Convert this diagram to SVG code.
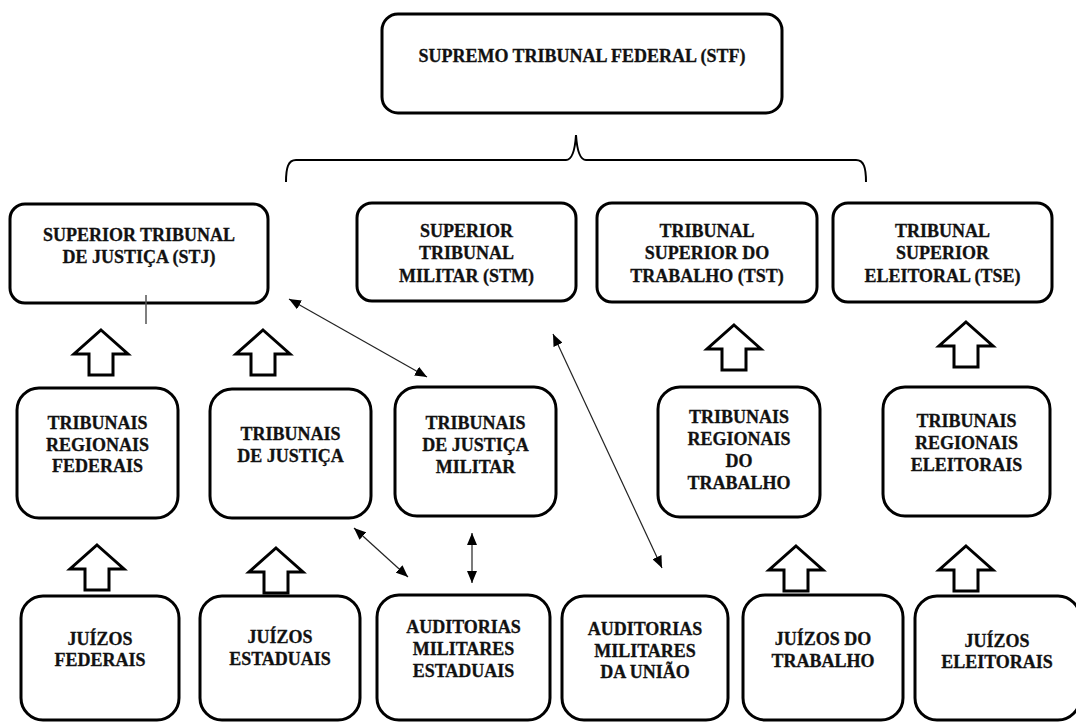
<svg xmlns="http://www.w3.org/2000/svg" xmlns:xlink="http://www.w3.org/1999/xlink" width="1076" height="722" viewBox="0 0 1076 722">
<style>
.box{fill:#fff;stroke:#000;stroke-width:3}
.t{font-family:"Liberation Serif","Times New Roman",serif;font-weight:bold;font-size:18px;fill:#111;stroke:#111;stroke-width:0.3;text-anchor:middle}
.con{stroke:#222;stroke-width:1.2;fill:none}
.blk{fill:#fff;stroke:#000;stroke-width:3}
</style>
<defs>
<marker id="ah" viewBox="0 0 12 10" refX="12" refY="5" markerWidth="12" markerHeight="10" markerUnits="userSpaceOnUse" orient="auto-start-reverse">
<path d="M0,0 L12,5 L0,10 Z" fill="#000"/>
</marker>
<path id="bk" d="M0,0 L27,24 L12,24 L12,45 L-12,45 L-12,24 L-27,24 Z"/>
</defs>
<rect width="1076" height="722" fill="#fff"/>

<g id="stf"><rect class="box" x="382" y="14" width="400" height="99" rx="16"/><text class="t" x="582" y="62">SUPREMO TRIBUNAL FEDERAL (STF)</text></g>

<g id="stj"><rect class="box" x="10" y="204" width="258" height="99" rx="15"/><text class="t" x="139" y="241">SUPERIOR TRIBUNAL</text><text class="t" x="139" y="263">DE JUSTIÇA (STJ)</text></g>
<g id="stm"><rect class="box" x="357" y="203" width="219" height="98" rx="15"/><text class="t" x="466.5" y="237">SUPERIOR</text><text class="t" x="466.5" y="259">TRIBUNAL</text><text class="t" x="466.5" y="282">MILITAR (STM)</text></g>
<g id="tst"><rect class="box" x="597" y="203" width="220" height="99" rx="15"/><text class="t" x="707" y="237">TRIBUNAL</text><text class="t" x="707" y="259">SUPERIOR DO</text><text class="t" x="707" y="282">TRABALHO (TST)</text></g>
<g id="tse"><rect class="box" x="833" y="203" width="219" height="99" rx="15"/><text class="t" x="942.5" y="237">TRIBUNAL</text><text class="t" x="942.5" y="259">SUPERIOR</text><text class="t" x="942.5" y="282">ELEITORAL (TSE)</text></g>

<g id="trf"><rect class="box" x="17" y="388" width="161" height="130" rx="22"/><text class="t" x="97.5" y="429">TRIBUNAIS</text><text class="t" x="97.5" y="451">REGIONAIS</text><text class="t" x="97.5" y="472">FEDERAIS</text></g>
<g id="tj"><rect class="box" x="210" y="389" width="161" height="129" rx="22"/><text class="t" x="290.5" y="440">TRIBUNAIS</text><text class="t" x="290.5" y="462">DE JUSTIÇA</text></g>
<g id="tjm"><rect class="box" x="395" y="387" width="161" height="129" rx="22"/><text class="t" x="475.5" y="429">TRIBUNAIS</text><text class="t" x="475.5" y="451">DE JUSTIÇA</text><text class="t" x="475.5" y="473">MILITAR</text></g>
<g id="trt"><rect class="box" x="658" y="387" width="162" height="130" rx="22"/><text class="t" x="739" y="423">TRIBUNAIS</text><text class="t" x="739" y="445">REGIONAIS</text><text class="t" x="739" y="467">DO</text><text class="t" x="739" y="489">TRABALHO</text></g>
<g id="tre"><rect class="box" x="883" y="387" width="167" height="129" rx="22"/><text class="t" x="966.5" y="427">TRIBUNAIS</text><text class="t" x="966.5" y="449">REGIONAIS</text><text class="t" x="966.5" y="471">ELEITORAIS</text></g>

<g id="jf"><rect class="box" x="21" y="596" width="158" height="124" rx="22"/><text class="t" x="100" y="645">JUÍZOS</text><text class="t" x="100" y="666">FEDERAIS</text></g>
<g id="je"><rect class="box" x="200" y="596" width="160" height="124" rx="22"/><text class="t" x="280" y="643">JUÍZOS</text><text class="t" x="280" y="665">ESTADUAIS</text></g>
<g id="ame"><rect class="box" x="377" y="595" width="173" height="125" rx="22"/><text class="t" x="463.5" y="633">AUDITORIAS</text><text class="t" x="463.5" y="655">MILITARES</text><text class="t" x="463.5" y="677">ESTADUAIS</text></g>
<g id="amu"><rect class="box" x="562" y="596" width="166" height="124" rx="22"/><text class="t" x="645" y="635">AUDITORIAS</text><text class="t" x="645" y="657">MILITARES</text><text class="t" x="645" y="678">DA UNIÃO</text></g>
<g id="jt"><rect class="box" x="743" y="595" width="160" height="125" rx="22"/><text class="t" x="823" y="645">JUÍZOS DO</text><text class="t" x="823" y="667">TRABALHO</text></g>
<g id="jel"><rect class="box" x="915" y="596" width="165" height="124" rx="22"/><text class="t" x="997" y="647">JUÍZOS</text><text class="t" x="997" y="668">ELEITORAIS</text></g>

<g id="connectors">
<path d="M286,182 C286,168 288,160 296,160 L566,160 C572,160 575,150 576,135 C577,150 580,160 586,160 L856,160 C864,160 866,168 866,182" fill="none" stroke="#000" stroke-width="2"/>
<line x1="146" y1="295" x2="146" y2="324" stroke="#555" stroke-width="1.5"/>
<line class="con" x1="289" y1="299" x2="427" y2="377" marker-start="url(#ah)" marker-end="url(#ah)"/>
<line class="con" x1="354" y1="528" x2="408" y2="577" marker-start="url(#ah)" marker-end="url(#ah)"/>
<line class="con" x1="472" y1="533" x2="472" y2="583" marker-start="url(#ah)" marker-end="url(#ah)"/>
<line class="con" x1="553" y1="334" x2="662" y2="568" marker-start="url(#ah)" marker-end="url(#ah)"/>
<use href="#bk" class="blk" x="101" y="330"/>
<use href="#bk" class="blk" x="263" y="330"/>
<use href="#bk" class="blk" x="97" y="545"/>
<use href="#bk" class="blk" x="276" y="548"/>
<use href="#bk" class="blk" x="734" y="325"/>
<use href="#bk" class="blk" x="966" y="322"/>
<use href="#bk" class="blk" x="796" y="546"/>
<use href="#bk" class="blk" x="966" y="546"/>
</g>
</svg>
